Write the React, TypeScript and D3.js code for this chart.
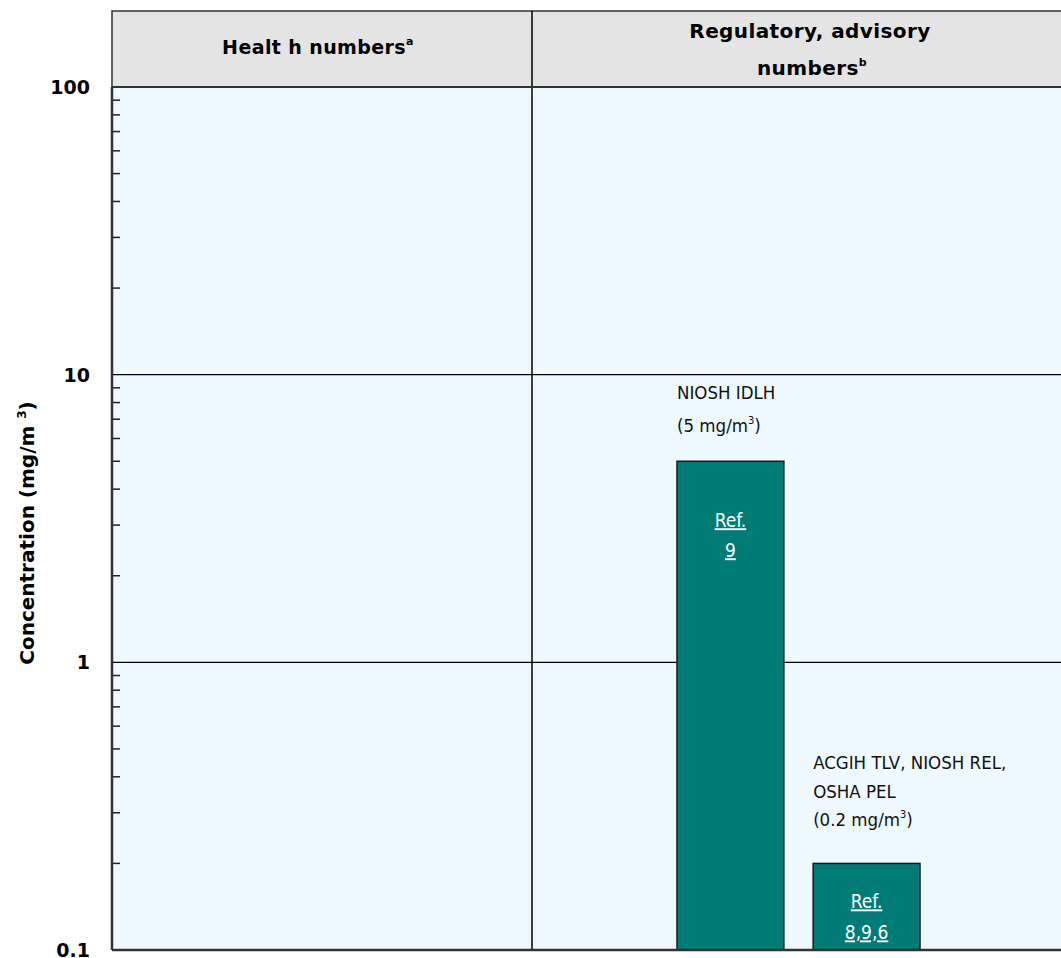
import React from "react";
import * as d3 from "d3";

const barNames = ["NIOSH IDLH", "ACGIH TLV, NIOSH REL, OSHA PEL"];
const barValues = [5, 0.2];
const barLabelLines = [["NIOSH IDLH", "(5 mg/m"], ["ACGIH TLV, NIOSH REL,", "OSHA PEL", "(0.2 mg/m"]];
const barRefs = [["Ref.", "9"], ["Ref.", "8,9,6"]];
const majorTicks = [100, 10, 1, 0.1];
const tickLabels = ["100", "10", "1", "0.1"];

const W = 1061, H = 958;
const left = 112, right = 1090, headerTop = 11, top = 87, bottom = 950;
const divX = 532;
// layout offsets per annotation (px)
const labelGap = [29, 37];
const labelLH = [33, 28.5];
const refOffsets = [[66, 96], [45, 76]];

export default function App() {
  const y = d3.scaleLog().domain([0.1, 100]).range([bottom, top]);
  const x = d3.scaleBand<string>().domain(barNames).range([677, 920]).paddingInner(0.215);
  const minor: number[] = [];
  for (const dec of [0.1, 1, 10]) for (let k = 2; k <= 9; k++) minor.push(dec * k);
  const font = "'DejaVu Sans', Verdana, sans-serif";
  const cond = "'DejaVu Sans Condensed', 'DejaVu Sans', sans-serif";
  return (
    <svg width={W} height={H} style={{ position: "absolute", left: 0, top: 0, background: "#fff" }} fontFamily={font}>
      <rect x={left} y={headerTop} width={right - left} height={top - headerTop} fill="#e4e4e4" stroke="#333" strokeWidth={1.5} />
      <rect x={left} y={top} width={right - left} height={bottom - top} fill="#eefaff" />
      {[10, 1].map((v) => (
        <line key={v} x1={left} x2={right} y1={y(v)} y2={y(v)} stroke="#000" strokeWidth={1.2} />
      ))}
      <line x1={divX} x2={divX} y1={headerTop} y2={bottom} stroke="#000" strokeWidth={1.5} />
      {minor.map((v, i) => (
        <line key={i} x1={left} x2={left + 8} y1={y(v)} y2={y(v)} stroke="#222" strokeWidth={1.5} />
      ))}
      {barNames.map((n, i) => (
        <rect key={n} x={x(n)} y={y(barValues[i])} width={x.bandwidth()} height={bottom - y(barValues[i])} fill="#007b76" stroke="#1a1a1a" strokeWidth={1.5} />
      ))}
      {barNames.map((n, i) => {
        const lines = barLabelLines[i];
        const lh = labelLH[i];
        const base = y(barValues[i]) - labelGap[i] - (lines.length - 1) * lh;
        return (
          <g key={n} fontFamily={cond}>
            {lines.map((t, j) => (
              <text key={j} x={x(n) as number} y={base + j * lh} fontSize={18.5} fill="#111">
                {t}
                {j === lines.length - 1 ? (
                  <>
                    <tspan fontSize={11} dy={-8}>3</tspan>
                    <tspan dy={8}>)</tspan>
                  </>
                ) : null}
              </text>
            ))}
            {barRefs[i].map((t, j) => (
              <text key={"r" + j} x={(x(n) as number) + x.bandwidth() / 2} y={y(barValues[i]) + refOffsets[i][j]} fontSize={19} fill="#fff" textAnchor="middle" textDecoration="underline">{t}</text>
            ))}
          </g>
        );
      })}
      <line x1={left} x2={left} y1={top} y2={bottom} stroke="#333" strokeWidth={2.5} />
      <line x1={left} x2={right} y1={bottom} y2={bottom} stroke="#333" strokeWidth={2.5} />
      <line x1={left} x2={right} y1={top} y2={top} stroke="#333" strokeWidth={2} />
      {majorTicks.map((v, i) => (
        <text key={v} x={90} y={Math.min(y(v) + 7, 957)} fontSize={19} fontWeight="bold" textAnchor="end" fill="#000">{tickLabels[i]}</text>
      ))}
      <text x={318} y={54} fontSize={19} fontWeight="bold" textAnchor="middle" letterSpacing={0.4}>
        Healt h numbers<tspan fontSize={11} dy={-9}>a</tspan>
      </text>
      <text x={810} y={38} fontSize={20} fontWeight="bold" textAnchor="middle" letterSpacing={0.4}>Regulatory, advisory</text>
      <text x={812} y={75} fontSize={20} fontWeight="bold" textAnchor="middle" letterSpacing={0.4}>
        numbers<tspan fontSize={11} dy={-9}>b</tspan>
      </text>
      <text transform="translate(34,533) rotate(-90)" fontSize={20} fontWeight="bold" textAnchor="middle">
        Concentration (mg/m <tspan fontSize={12} dy={-8}>3</tspan><tspan dy={8}>)</tspan>
      </text>
    </svg>
  );
}
